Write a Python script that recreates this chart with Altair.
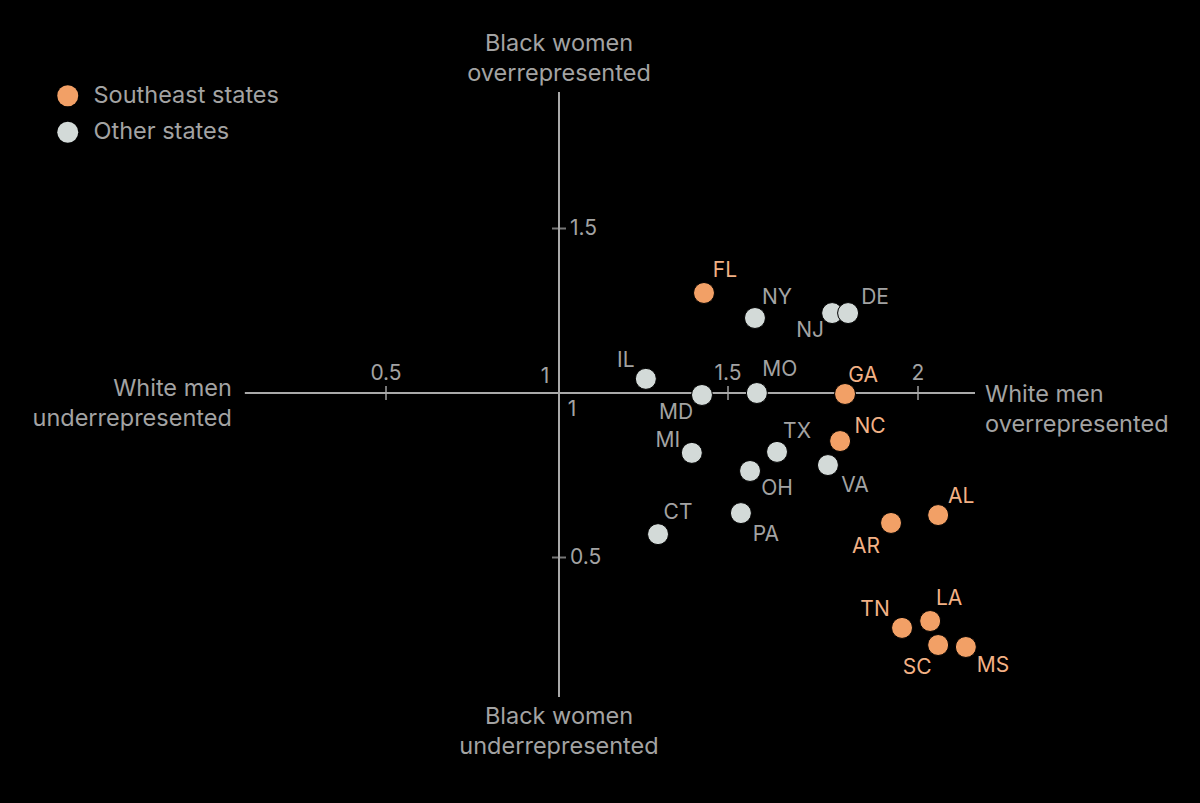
import altair as alt
import pandas as pd

# ---- data ----
states = ["FL", "NY", "NJ", "DE", "IL", "MD", "MO", "GA", "NC", "MI", "TX",
          "OH", "VA", "CT", "PA", "AR", "AL", "TN", "LA", "SC", "MS"]
white_men = [1.429, 1.571, 1.774, 1.816, 1.257, 1.423, 1.576, 1.808, 1.795, 1.393, 1.629,
             1.558, 1.763, 1.293, 1.534, 1.929, 2.053, 1.958, 2.032, 2.053, 2.126]
black_women = [1.304, 1.228, 1.243, 1.243, 1.043, 0.994, 1.000, 0.997, 0.854, 0.818, 0.821,
               0.763, 0.781, 0.571, 0.635, 0.605, 0.629, 0.286, 0.307, 0.234, 0.228]
group = ["Southeast states", "Other states", "Other states", "Other states", "Other states",
         "Other states", "Other states", "Southeast states", "Southeast states", "Other states",
         "Other states", "Other states", "Other states", "Other states", "Other states",
         "Southeast states", "Southeast states", "Southeast states", "Southeast states",
         "Southeast states", "Southeast states"]

x_ticks = [0.5, 1.5, 2]
x_tick_labels = ["0.5", "1.5", "2"]
y_ticks = [0.5, 1.5]
y_tick_labels = ["0.5", "1.5"]

# label offsets (style)
label_offsets = {
    "FL": (21, -22), "NY": (22, -20), "NJ": (-22, 18), "DE": (27, -15), "IL": (-20, -18),
    "MD": (-26, 18), "MO": (23, -23), "GA": (18, -18), "NC": (30, -14), "MI": (-24, -12),
    "TX": (20, -20), "OH": (27, 18), "VA": (27, 21), "CT": (20, -21), "PA": (25, 22),
    "AR": (-25, 24), "AL": (23, -18), "TN": (-27, -18), "LA": (19, -22), "SC": (-21, 23),
    "MS": (27, 19),
}

df = pd.DataFrame({"state": states, "wm": white_men, "bw": black_women, "group": group})

FONT = "Inter"
AXIS_COL = "#a9a9a9"
TEXT_COL = "#a3a3a3"
ORANGE = "#f2a066"
GREY = "#d3dad8"
ORANGE_TXT = "#f3b185"
SMALL = 21
BIG = 23.5

xs = alt.Scale(domain=[0.5, 1, 1.5, 2], range=[386, 559, 728, 918], nice=False, zero=False)
ys = alt.Scale(domain=[0.5, 1.5], range=[557.5, 228.5], nice=False, zero=False)

X_MIN, X_MAX = 0.092, 2.15
Y_MIN, Y_MAX = 0.076, 1.915

axes_df = pd.DataFrame({"x": [X_MIN, 1], "x2": [X_MAX, 1], "y": [1, Y_MIN], "y2": [1, Y_MAX]})
axis_lines = alt.Chart(axes_df).mark_rule(color=AXIS_COL, strokeWidth=2).encode(
    x=alt.X("x:Q", scale=xs, axis=None), x2="x2:Q",
    y=alt.Y("y:Q", scale=ys, axis=None), y2="y2:Q",
)

xt_df = pd.DataFrame({"v": x_ticks, "lab": x_tick_labels, "y": [1] * len(x_ticks)})
yt_df = pd.DataFrame({"v": y_ticks, "lab": y_tick_labels, "x": [1] * len(y_ticks)})

x_tick_marks = alt.Chart(xt_df).mark_tick(orient="vertical", size=14, thickness=2, color=AXIS_COL).encode(
    x=alt.X("v:Q", scale=xs), y=alt.Y("y:Q", scale=ys))
y_tick_marks = alt.Chart(yt_df).mark_tick(orient="horizontal", size=14, thickness=2, color=AXIS_COL).encode(
    x=alt.X("x:Q", scale=xs), y=alt.Y("v:Q", scale=ys))

x_tick_text = alt.Chart(xt_df).mark_text(font=FONT, fontSize=SMALL, color=TEXT_COL, dy=-19, baseline="middle").encode(
    x=alt.X("v:Q", scale=xs), y=alt.Y("y:Q", scale=ys), text="lab:N")
y_tick_text = alt.Chart(yt_df).mark_text(font=FONT, fontSize=SMALL, color=TEXT_COL, dx=11, align="left", baseline="middle").encode(
    x=alt.X("x:Q", scale=xs), y=alt.Y("v:Q", scale=ys), text="lab:N")

origin_df = pd.DataFrame({"x": [1], "y": [1]})
one_x = alt.Chart(origin_df).mark_text(text="1", font=FONT, fontSize=SMALL, color=TEXT_COL, dx=-14, dy=-16).encode(
    x=alt.X("x:Q", scale=xs), y=alt.Y("y:Q", scale=ys))
one_y = alt.Chart(origin_df).mark_text(text="1", font=FONT, fontSize=SMALL, color=TEXT_COL, dx=13, dy=17).encode(
    x=alt.X("x:Q", scale=xs), y=alt.Y("y:Q", scale=ys))

ends_df = pd.DataFrame({"x": [X_MIN, X_MAX, 1, 1], "y": [1, 1, Y_MAX, Y_MIN]})

def end_title(i, lines, align, dx, dy):
    return alt.Chart(ends_df.iloc[[i]]).mark_text(
        text=lines, font=FONT, fontSize=BIG, color=TEXT_COL, align=align,
        baseline="middle", lineHeight=30, dx=dx, dy=dy).encode(
        x=alt.X("x:Q", scale=xs), y=alt.Y("y:Q", scale=ys))

t_left = end_title(0, ["White men", "underrepresented"], "right", -13, -4)
t_right = end_title(1, ["White men", "overrepresented"], "left", 10, 2)
t_top = end_title(2, ["Black women", "overrepresented"], "center", 0, -48)
t_bot = end_title(3, ["Black women", "underrepresented"], "center", 0, 20)

points = alt.Chart(df).mark_circle(size=440, opacity=1, stroke="#000000", strokeWidth=1).encode(
    x=alt.X("wm:Q", scale=xs),
    y=alt.Y("bw:Q", scale=ys),
    color=alt.Color("group:N",
                    scale=alt.Scale(domain=["Southeast states", "Other states"], range=[ORANGE, GREY]),
                    legend=alt.Legend(title=None, orient="none", legendX=56, legendY=84,
                                      symbolType="circle", symbolSize=440, symbolStrokeWidth=0,
                                      labelFont=FONT, labelFontSize=BIG, labelColor=TEXT_COL,
                                      labelOffset=14, rowPadding=11.5, labelLimit=400)),
)

label_layers = []
for s, g in zip(states, group):
    dx, dy = label_offsets[s]
    label_layers.append(
        alt.Chart(df[df.state == s]).mark_text(
            font=FONT, fontSize=SMALL, dx=dx, dy=dy, baseline="middle",
            color=ORANGE_TXT if g == "Southeast states" else TEXT_COL).encode(
            x=alt.X("wm:Q", scale=xs), y=alt.Y("bw:Q", scale=ys), text="state:N"))

chart = alt.layer(
    axis_lines, x_tick_marks, y_tick_marks, x_tick_text, y_tick_text, one_x, one_y,
    t_left, t_right, t_top, t_bot, points, *label_layers
).properties(
    width=1200, height=803, background="#000000", padding=0,
    autosize=alt.AutoSizeParams(type="none"),
).configure_view(stroke=None)

chart.save("out.html", embed_options={"renderer": "svg", "actions": False})
